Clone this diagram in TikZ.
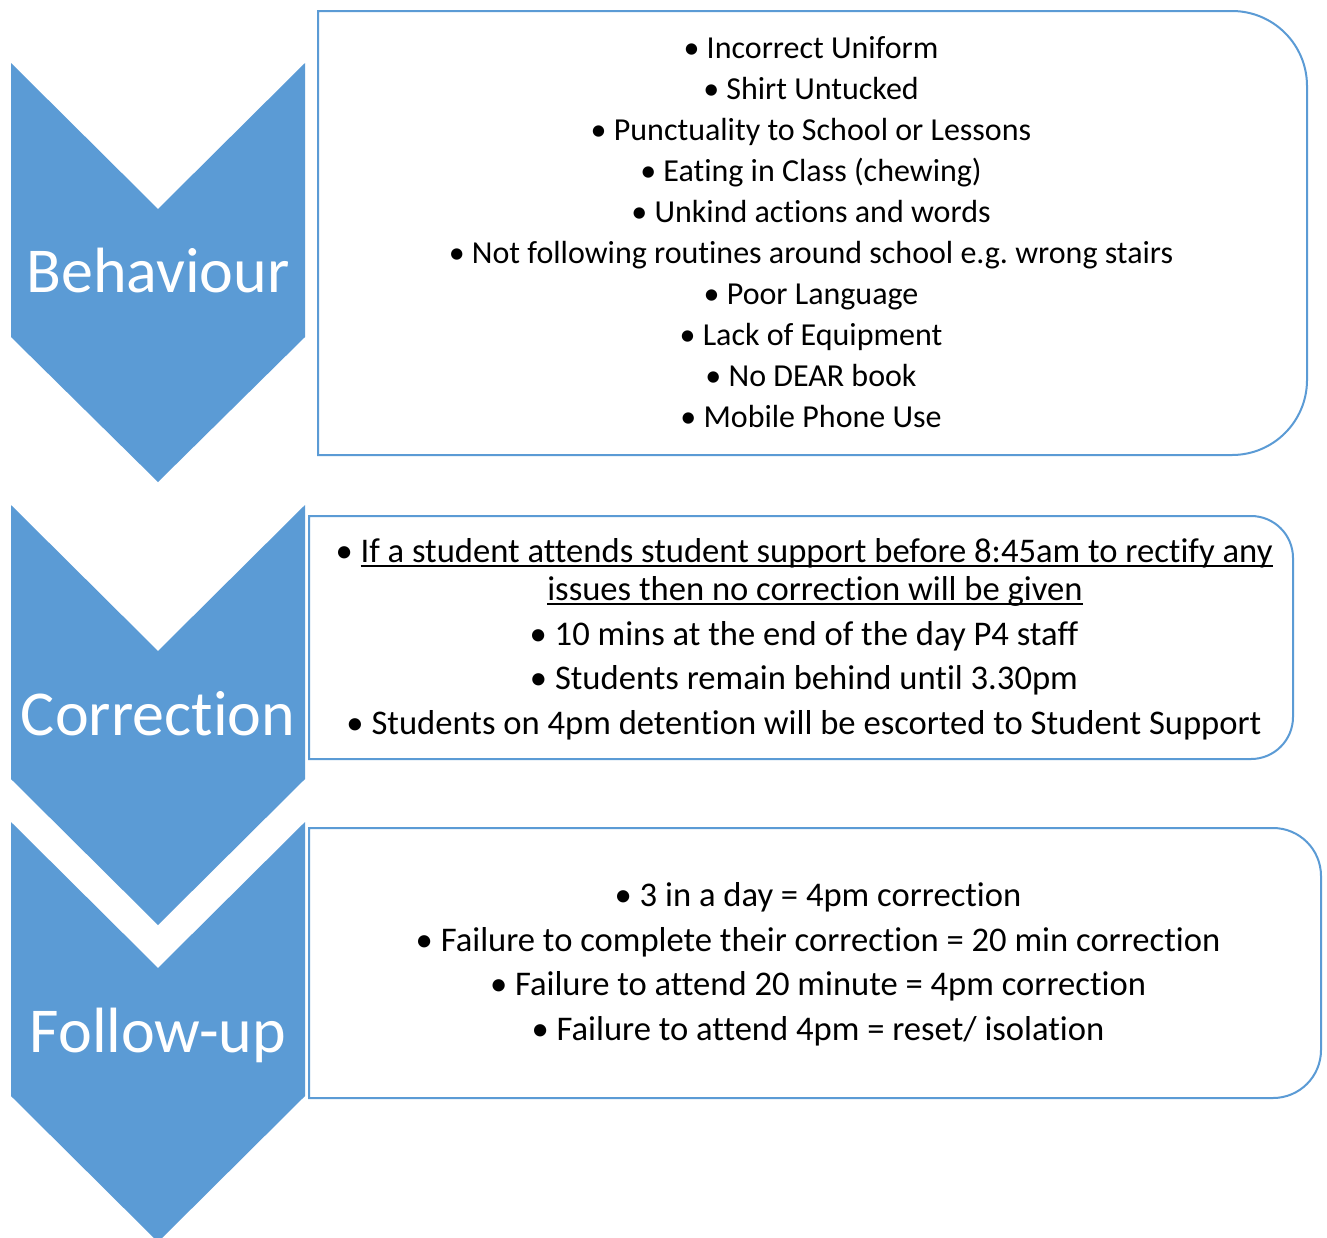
\documentclass[tikz,border=0pt]{standalone}
\usepackage{fontspec}
\setmainfont[Ligatures={CommonOff,ContextualOff},Contextuals=AlternateOff]{Carlito}
\definecolor{chev}{HTML}{5B9BD5}
\newcommand\myul[1]{\setbox0\hbox{#1}\rlap{\rule[-4.5pt]{\wd0}{1.8pt}}\box0}
\frenchspacing
\tikzset{
  chevshape/.style={fill=chev, draw=none},
  boxline/.style={draw=chev, line width=2pt},
  labeltxt/.style={text=white, font=\fontsize{64}{72}\selectfont, anchor=base, inner sep=0pt},
  itemA/.style={font=\fontsize{32}{38}\selectfont, anchor=base, inner sep=0pt},
  itemB/.style={font=\fontsize{34.6}{40}\selectfont, anchor=base, inner sep=0pt},
}
\begin{document}
\begin{tikzpicture}[x=1pt,y=-1pt]
\fill[white] (0,0) rectangle (1327,1237);
\useasboundingbox (0,0) rectangle (1327,1237);
\clip (0,0) rectangle (1327,1237);

% chevrons
\fill[chevshape] (11,63) -- (158,209) -- (305,63) -- (305,337) -- (158,482) -- (11,337) -- cycle;
\fill[chevshape] (11,505) -- (158,651) -- (305,505) -- (305,779) -- (158,925) -- (11,779) -- cycle;
\fill[chevshape] (11,822) -- (158,968) -- (305,822) -- (305,1096) -- (158,1242) -- (11,1096) -- cycle;

\node[labeltxt] (lab1) at (158,292) {Behaviour};
\node[labeltxt] (lab2) at (158,735) {Correction};
\node[labeltxt] (lab3) at (158,1052) {Follow-up};

% boxes
\draw[boxline] (318,11) -- (1232,11) arc[start angle=-90, end angle=0, radius=75]
  -- (1307,380) arc[start angle=0, end angle=90, radius=75] -- (318,455) -- cycle;
\draw[boxline] (309,516) -- (1251,516) arc[start angle=-90, end angle=0, radius=42]
  -- (1293,717) arc[start angle=0, end angle=90, radius=42] -- (309,759) -- cycle;
\draw[boxline] (309,828) -- (1273,828) arc[start angle=-90, end angle=0, radius=48]
  -- (1321,1050) arc[start angle=0, end angle=90, radius=48] -- (309,1098) -- cycle;

% box 1 text
\node[itemA] (a1) at (811,58) {• Incorrect Uniform};
\node[itemA] (a2) at (811,99) {• Shirt Untucked};
\node[itemA] (a3) at (811,140) {• Punctuality to School or Lessons};
\node[itemA] (a4) at (811,181) {• Eating in Class (chewing)};
\node[itemA] (a5) at (811,222) {• Unkind actions and words};
\node[itemA] (a6) at (811,263) {• Not following routines around school e.g. wrong stairs};
\node[itemA] (a7) at (811,304) {• Poor Language};
\node[itemA] (a8) at (811,345) {• Lack of Equipment};
\node[itemA] (a9) at (811,386) {• No DEAR book};
\node[itemA] (a10) at (811,427) {• Mobile Phone Use};

% box 2 text
\node[itemB] (b1) at (804,562) {• \myul{If a student attends student support before 8:45am to rectify any}};
\node[itemB] (b2) at (815,600) {\myul{issues then no correction will be given}};
\node[itemB] (b3) at (804,645) {• 10 mins at the end of the day P4 staff};
\node[itemB] (b4) at (804,689) {• Students remain behind until 3.30pm};
\node[itemB] (b5) at (804,734) {• Students on 4pm detention will be escorted to Student Support};

% box 3 text
\node[itemB] (c1) at (818,906) {• 3 in a day = 4pm correction};
\node[itemB] (c2) at (818,951) {• Failure to complete their correction = 20 min correction};
\node[itemB] (c3) at (818,995) {• Failure to attend 20 minute = 4pm correction};
\node[itemB] (c4) at (818,1040) {• Failure to attend 4pm = reset/ isolation};
\end{tikzpicture}
\end{document}
